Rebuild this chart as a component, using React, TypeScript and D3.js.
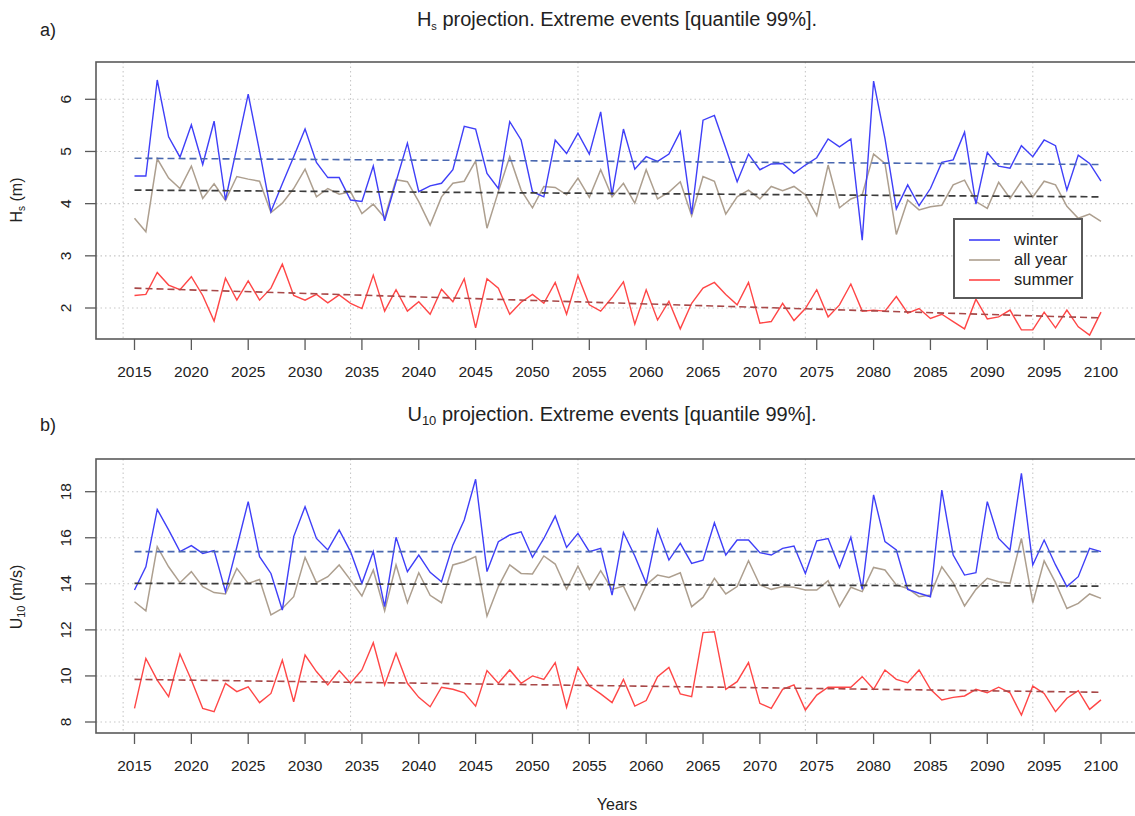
import React from "react";
import * as d3 from "d3";

// Years of the projection
const years: number[] = d3.range(2015, 2101);

// Hs extreme events (quantile 99%), metres
const hsWinter: number[] = [
  4.53, 4.53, 6.37, 5.28, 4.89, 5.51, 4.75, 5.58, 4.07, 5.08,
  6.10, 5.00, 3.85, 4.38, 4.90, 5.43, 4.79, 4.50, 4.50, 4.07,
  4.04, 4.72, 3.67, 4.42, 5.16, 4.23, 4.34, 4.39, 4.65, 5.48,
  5.43, 4.58, 4.29, 5.57, 5.22, 4.23, 4.13, 5.22, 4.96, 5.35,
  4.95, 5.76, 4.17, 5.43, 4.66, 4.90, 4.81, 4.95, 5.38, 3.80,
  5.60, 5.69, 5.06, 4.42, 4.95, 4.65, 4.76, 4.77, 4.58, 4.74,
  4.88, 5.24, 5.09, 5.24, 3.30, 6.35, 5.25, 3.90, 4.36, 3.96,
  4.29, 4.79, 4.84, 5.37, 3.99, 4.98, 4.72, 4.68, 5.11, 4.90,
  5.22, 5.11, 4.26, 4.93, 4.77, 4.43,
];
const hsAllYear: number[] = [
  3.72, 3.46, 4.86, 4.49, 4.29, 4.72, 4.10, 4.38, 4.06, 4.52,
  4.47, 4.43, 3.83, 4.01, 4.29, 4.66, 4.13, 4.29, 4.18, 4.23,
  3.81, 3.99, 3.73, 4.46, 4.42, 4.04, 3.59, 4.13, 4.39, 4.43,
  4.82, 3.53, 4.23, 4.90, 4.26, 3.92, 4.33, 4.31, 4.17, 4.49,
  4.12, 4.65, 4.13, 4.39, 4.01, 4.65, 4.09, 4.22, 4.42, 3.77,
  4.52, 4.43, 3.80, 4.13, 4.26, 4.09, 4.33, 4.25, 4.33, 4.17,
  3.77, 4.74, 3.92, 4.09, 4.17, 4.95, 4.77, 3.41, 4.07, 3.88,
  3.94, 3.97, 4.36, 4.45, 4.04, 3.91, 4.41, 4.10, 4.43, 4.13,
  4.43, 4.36, 3.95, 3.72, 3.80, 3.66,
];
const hsSummer: number[] = [
  2.24, 2.26, 2.68, 2.44, 2.35, 2.60, 2.24, 1.75, 2.57, 2.15,
  2.52, 2.15, 2.38, 2.84, 2.24, 2.15, 2.26, 2.10, 2.25, 2.09,
  1.99, 2.63, 1.94, 2.35, 1.94, 2.12, 1.88, 2.36, 2.12, 2.56,
  1.62, 2.56, 2.38, 1.88, 2.11, 2.26, 2.09, 2.49, 1.88, 2.62,
  2.06, 1.94, 2.20, 2.50, 1.69, 2.35, 1.77, 2.13, 1.60, 2.09,
  2.38, 2.49, 2.26, 2.06, 2.49, 1.71, 1.74, 2.09, 1.76, 1.99,
  2.35, 1.83, 2.06, 2.46, 1.94, 1.96, 1.94, 2.22, 1.90, 1.99,
  1.80, 1.88, 1.74, 1.60, 2.17, 1.79, 1.83, 1.96, 1.58, 1.58,
  1.92, 1.62, 1.96, 1.64, 1.48, 1.92,
];
// Linear trends (value in 2015, value in 2100)
const hsWinterTrend: number[] = [4.87, 4.75];
const hsAllYearTrend: number[] = [4.26, 4.13];
const hsSummerTrend: number[] = [2.38, 1.81];

// U10 extreme events (quantile 99%), m/s
const u10Winter: number[] = [
  13.73, 14.74, 17.23, 16.34, 15.40, 15.66, 15.32, 15.44, 13.66, 15.60,
  17.57, 15.18, 14.45, 12.86, 16.05, 17.35, 15.97, 15.47, 16.34, 15.40,
  14.02, 15.40, 13.01, 16.02, 14.53, 15.25, 14.50, 14.09, 15.68, 16.77,
  18.54, 14.53, 15.83, 16.12, 16.26, 15.15, 15.97, 16.94, 15.58, 16.19,
  15.40, 15.54, 13.51, 16.23, 15.21, 14.02, 16.36, 15.03, 15.76, 14.89,
  15.03, 16.65, 15.25, 15.90, 15.90, 15.35, 15.25, 15.54, 15.64, 14.45,
  15.87, 15.97, 14.71, 16.02, 13.76, 17.86, 15.83, 15.47, 13.76, 13.59,
  13.44, 18.07, 15.25, 14.38, 14.48, 17.57, 15.97, 15.47, 18.80, 14.82,
  15.90, 14.82, 13.88, 14.31, 15.54, 15.40,
];
const u10AllYear: number[] = [
  13.22, 12.83, 15.61, 14.74, 14.05, 14.53, 13.88, 13.62, 13.56, 14.67,
  14.02, 14.19, 12.65, 12.93, 13.44, 15.15, 14.05, 14.31, 14.82, 14.16,
  13.47, 14.60, 12.83, 14.82, 13.18, 14.48, 13.50, 13.18, 14.82, 14.96,
  15.18, 12.60, 13.88, 14.82, 14.45, 14.43, 15.21, 14.86, 13.76, 14.77,
  13.76, 14.57, 13.76, 13.90, 12.86, 13.95, 14.38, 14.28, 14.48, 13.01,
  13.41, 14.24, 13.56, 13.88, 15.00, 13.95, 13.76, 13.88, 13.85, 13.73,
  13.73, 14.14, 13.01, 13.85, 13.66, 14.71, 14.60, 13.95, 13.80, 13.44,
  13.51, 14.74, 14.05, 13.04, 13.76, 14.24, 14.09, 14.02, 15.97, 13.18,
  15.00, 14.05, 12.93, 13.15, 13.56, 13.37,
];
const u10Summer: number[] = [
  8.59, 10.76, 9.82, 9.10, 10.95, 9.82, 8.59, 8.45, 9.68, 9.32,
  9.53, 8.84, 9.24, 10.69, 8.88, 10.91, 10.19, 9.61, 10.23, 9.68,
  10.26, 11.44, 9.61, 10.98, 9.68, 9.07, 8.66, 9.51, 9.42, 9.27,
  8.69, 10.23, 9.68, 10.26, 9.68, 10.00, 9.85, 10.58, 8.64, 10.37,
  9.56, 9.22, 8.84, 9.85, 8.69, 8.93, 9.97, 10.37, 9.22, 9.10,
  11.88, 11.92, 9.42, 9.75, 10.58, 8.81, 8.59, 9.42, 9.61, 8.52,
  9.17, 9.51, 9.51, 9.51, 9.97, 9.42, 10.26, 9.85, 9.71, 10.26,
  9.42, 8.96, 9.07, 9.13, 9.42, 9.27, 9.51, 9.27, 8.30, 9.56,
  9.24, 8.45, 9.03, 9.36, 8.55, 8.96,
];
const u10WinterTrend: number[] = [15.4, 15.4];
const u10AllYearTrend: number[] = [14.02, 13.9];
const u10SummerTrend: number[] = [9.85, 9.29];

// Axis ticks
const xTicks: number[] = d3.range(2015, 2101, 5);
const xGridYears: number[] = [2014, 2034, 2054, 2074, 2094];
const hsTicks: number[] = [2, 3, 4, 5, 6];
const u10Ticks: number[] = [8, 10, 12, 14, 16, 18];
const legendLabels: string[] = ["winter", "all year", "summer"];

const FONT = "'Liberation Sans', Arial, Helvetica, sans-serif";
const COL = {
  winter: "#3f3ff8",
  all: "#ad9f8f",
  summer: "#ff4646",
  winterTrend: "#4a68b0",
  allTrend: "#3c3c3c",
  summerTrend: "#a84848",
  frame: "#5a5a5a",
  grid: "#c8c8c8",
  text: "#222",
};

const X0 = 96;
const X1 = 1140;
const x = d3.scaleLinear().domain([2015, 2100]).range([134.5, 1101]);

type PanelProps = {
  top: number;
  bottom: number;
  yScale: d3.ScaleLinear<number, number>;
  ticks: number[];
  winter: number[];
  allYear: number[];
  summer: number[];
  trends: number[][];
  legend?: boolean;
};

function Panel({ top, bottom, yScale, ticks, winter, allYear, summer, trends, legend }: PanelProps) {
  const line = d3
    .line<number>()
    .x((_, i) => x(years[i]))
    .y((d) => yScale(d));
  const trendYears = [2015, 2100];
  const trendLine = d3
    .line<number>()
    .x((_, i) => x(trendYears[i]))
    .y((d) => yScale(d));
  const clipId = `clip-${top}`;
  return (
    <g>
      <defs>
        <clipPath id={clipId}>
          <rect x={X0} y={top} width={X1 - X0} height={bottom - top} />
        </clipPath>
      </defs>
      {/* dotted grid */}
      <g stroke={COL.grid} strokeWidth={1.1} strokeDasharray="1.5,3">
        {ticks.map((t) => (
          <line key={`h${t}`} x1={X0} x2={X1} y1={yScale(t)} y2={yScale(t)} />
        ))}
        {xGridYears.map((yr) => (
          <line key={`v${yr}`} x1={x(yr)} x2={x(yr)} y1={top} y2={bottom} />
        ))}
      </g>
      <g clipPath={`url(#${clipId})`} fill="none">
        <path d={line(allYear) || ""} stroke={COL.all} strokeWidth={1.5} />
        <path d={line(summer) || ""} stroke={COL.summer} strokeWidth={1.4} />
        <path d={line(winter) || ""} stroke={COL.winter} strokeWidth={1.4} />
        <path d={trendLine(trends[0]) || ""} stroke={COL.winterTrend} strokeWidth={1.6} strokeDasharray="7,4" />
        <path d={trendLine(trends[1]) || ""} stroke={COL.allTrend} strokeWidth={1.7} strokeDasharray="7,4" />
        <path d={trendLine(trends[2]) || ""} stroke={COL.summerTrend} strokeWidth={1.6} strokeDasharray="7,4" />
      </g>
      {/* frame */}
      <rect x={X0} y={top} width={X1 - X0} height={bottom - top} fill="none" stroke={COL.frame} strokeWidth={1.6} />
      {/* x axis */}
      <g stroke={COL.frame} strokeWidth={1.3}>
        {xTicks.map((t) => (
          <line key={`xt${t}`} x1={x(t)} x2={x(t)} y1={bottom} y2={bottom + 11} />
        ))}
      </g>
      <g fontFamily={FONT} fontSize={15.5} fill={COL.text} textAnchor="middle">
        {xTicks.map((t) => (
          <text key={`xl${t}`} x={x(t)} y={bottom + 38}>
            {t}
          </text>
        ))}
      </g>
      {/* y axis */}
      <g stroke={COL.frame} strokeWidth={1.3}>
        {ticks.map((t) => (
          <line key={`yt${t}`} x1={X0 - 11} x2={X0} y1={yScale(t)} y2={yScale(t)} />
        ))}
      </g>
      <g fontFamily={FONT} fontSize={15.5} fill={COL.text} textAnchor="middle">
        {ticks.map((t) => (
          <text key={`yl${t}`} x={71} y={yScale(t)} transform={`rotate(-90, 71, ${yScale(t)})`}>
            {t}
          </text>
        ))}
      </g>
      {legend && (
        <g>
          <rect x={954} y={219} width={128} height={79} fill="#fff" stroke={COL.frame} strokeWidth={2} />
          {legendLabels.map((lab, i) => {
            const cy = 240 + i * 20;
            const c = [COL.winter, COL.all, COL.summer][i];
            return (
              <g key={lab}>
                <line x1={969} x2={1000} y1={cy} y2={cy} stroke={c} strokeWidth={1.6} />
                <text x={1014} y={cy + 5} fontFamily={FONT} fontSize={16.5} fill={COL.text}>
                  {lab}
                </text>
              </g>
            );
          })}
        </g>
      )}
    </g>
  );
}

export default function App() {
  const yHs = d3.scaleLinear().domain([2, 6]).range([308, 99.3]);
  const yU = d3.scaleLinear().domain([8, 18]).range([722, 491.7]);
  return (
    <svg
      width={1135}
      height={816}
      style={{ position: "absolute", left: 0, top: 0, background: "#fff" }}
    >
      <rect x={0} y={0} width={1135} height={816} fill="#fff" />
      {/* panel labels and titles */}
      <text x={40} y={36} fontFamily={FONT} fontSize={18} fill={COL.text}>a)</text>
      <text x={40} y={431} fontFamily={FONT} fontSize={18} fill={COL.text}>b)</text>
      <text x={617} y={26} fontFamily={FONT} fontSize={20} fill={COL.text} textAnchor="middle">
        H<tspan fontSize={11} dy={4}>s</tspan>
        <tspan dy={-4}> projection. Extreme events [quantile 99%].</tspan>
      </text>
      <text x={612} y={421} fontFamily={FONT} fontSize={20} fill={COL.text} textAnchor="middle">
        U<tspan fontSize={13} dy={4}>10</tspan>
        <tspan dy={-4}> projection. Extreme events [quantile 99%].</tspan>
      </text>
      {/* axis titles */}
      <text
        x={22}
        y={200}
        transform="rotate(-90, 22, 200)"
        fontFamily={FONT}
        fontSize={16}
        fill={COL.text}
        textAnchor="middle"
      >
        H<tspan fontSize={10} dy={3}>s</tspan>
        <tspan dy={-3}> (m)</tspan>
      </text>
      <text
        x={22}
        y={597}
        transform="rotate(-90, 22, 597)"
        fontFamily={FONT}
        fontSize={16}
        fill={COL.text}
        textAnchor="middle"
      >
        U<tspan fontSize={11} dy={3}>10</tspan>
        <tspan dy={-3}> (m/s)</tspan>
      </text>
      <text x={617} y={810} fontFamily={FONT} fontSize={16} fill={COL.text} textAnchor="middle">
        Years
      </text>

      <Panel
        top={62}
        bottom={339}
        yScale={yHs}
        ticks={hsTicks}
        winter={hsWinter}
        allYear={hsAllYear}
        summer={hsSummer}
        trends={[hsWinterTrend, hsAllYearTrend, hsSummerTrend]}
        legend
      />
      <Panel
        top={459}
        bottom={733}
        yScale={yU}
        ticks={u10Ticks}
        winter={u10Winter}
        allYear={u10AllYear}
        summer={u10Summer}
        trends={[u10WinterTrend, u10AllYearTrend, u10SummerTrend]}
      />
    </svg>
  );
}
